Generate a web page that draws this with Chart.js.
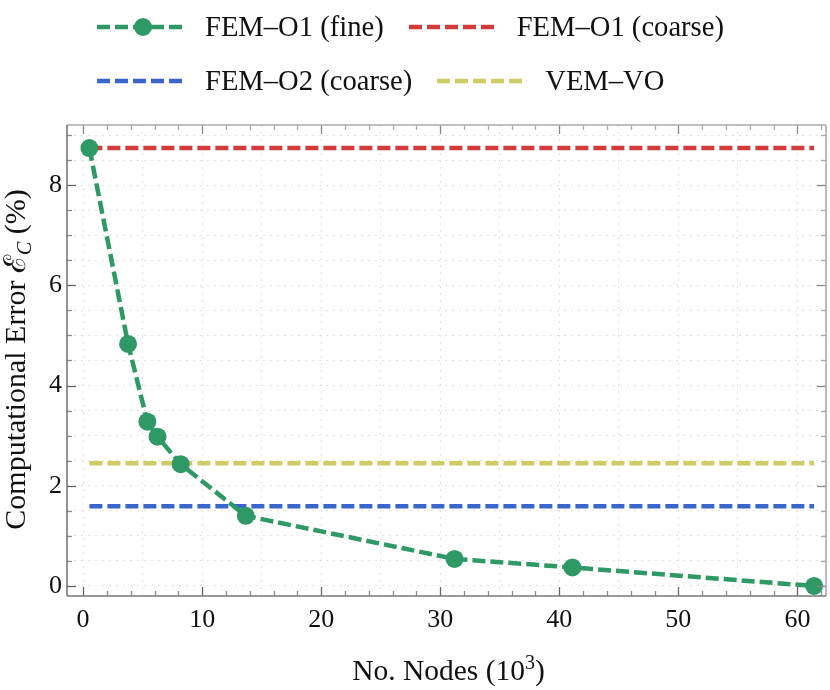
<!DOCTYPE html>
<html>
<head>
<meta charset="utf-8">
<script src="https://cdn.jsdelivr.net/npm/chart.js@4.4.1/dist/chart.umd.min.js"></script>
<style>
  body { margin: 0; background: #fff; }
  #wrap { position: relative; width: 830px; height: 690px; }
  #legend { position: absolute; left: 97px; top: 0; font-family: 'Liberation Serif', serif; font-size: 28.6px; color: #111; }
  .row { position: absolute; left: 0; height: 34px; display: flex; align-items: center; white-space: nowrap; }
  .row svg { margin-right: 21px; }
  .row span { margin-right: 25px; }
</style>
</head>
<body>
<div id="wrap">
  <canvas id="chart"></canvas>
  <div id="legend"></div>
</div>
<script>
// number of nodes (x 10^3) and computational error (%)
const nodes = [0.53, 3.78, 5.4, 6.25, 8.2, 13.67, 31.2, 41.1, 61.4];
const errFine = [8.74, 4.83, 3.28, 2.98, 2.43, 1.40, 0.54, 0.37, 0.0];
// reference levels, drawn across the same node range
const refRange = [0.53, 61.4];
const errO1Coarse = 8.74;
const errO2Coarse = 1.59;
const errVem = 2.45;

const seriesNames = ["FEM\u2013O1 (fine)", "FEM\u2013O1 (coarse)", "FEM\u2013O2 (coarse)", "VEM\u2013VO"];
const seriesColors = ["#2f9966", "#d33a3a", "#3a66cc", "#cfcc66"];

const FONT = "'Liberation Serif', 'DejaVu Serif', serif";
const DASH = [13, 5];

const flat = (v) => refRange.map(x => ({ x: x, y: v }));

const datasets = [
  {
    label: seriesNames[0],
    data: nodes.map((x, i) => ({ x: x, y: errFine[i] })),
    borderColor: seriesColors[0],
    backgroundColor: seriesColors[0],
    borderWidth: 4.5,
    borderDash: DASH,
    pointRadius: 9,
    pointBorderWidth: 0,
    order: 0,
  },
  { label: seriesNames[1], data: flat(errO1Coarse), borderColor: seriesColors[1], order: 1 },
  { label: seriesNames[2], data: flat(errO2Coarse), borderColor: seriesColors[2], order: 2 },
  { label: seriesNames[3], data: flat(errVem), borderColor: seriesColors[3], order: 3 },
];
datasets.slice(1).forEach(d => {
  d.borderWidth = 4.5;
  d.borderDash = DASH;
  d.pointRadius = 0;
  d.borderCapStyle = 'butt';
});

// frame with inward ticks on all four sides, plus the axis titles
const frameAndTitles = {
  id: 'frameAndTitles',
  afterDraw(chart) {
    const { ctx, chartArea: a, scales: { x, y } } = chart;
    ctx.save();
    const seg = (x1, y1, x2, y2) => { ctx.beginPath(); ctx.moveTo(x1, y1); ctx.lineTo(x2, y2); ctx.stroke(); };

    ctx.lineWidth = 1.3;
    for (let v = 0; v <= 62; v += 2) {
      const px = Math.round(x.getPixelForValue(v)) + 0.5;
      const major = v % 10 === 0;
      const len = major ? 9 : 5;
      ctx.strokeStyle = major ? '#666' : '#8a8a8a';
      seg(px, a.bottom, px, a.bottom - len);
      ctx.strokeStyle = major ? '#888' : '#aaa';
      seg(px, a.top, px, a.top + len);
    }
    for (let v = 0; v <= 9; v += 0.5) {
      const py = Math.round(y.getPixelForValue(v)) + 0.5;
      const major = v % 2 === 0;
      const len = major ? 9 : 5;
      ctx.strokeStyle = major ? '#666' : '#8a8a8a';
      seg(a.left, py, a.left + len, py);
      ctx.strokeStyle = major ? '#888' : '#aaa';
      seg(a.right, py, a.right - len, py);
    }

    ctx.lineWidth = 1.6;
    ctx.strokeStyle = '#aaa';
    seg(a.left, a.top, a.right, a.top);
    seg(a.right, a.top, a.right, a.bottom);
    ctx.strokeStyle = '#777';
    seg(a.left, a.top, a.left, a.bottom);
    seg(a.left, a.bottom, a.right, a.bottom);

    ctx.fillStyle = '#111';
    ctx.textBaseline = 'alphabetic';
    ctx.textAlign = 'left';

    // x title: No. Nodes (10^3)
    const mainFont = '29.5px ' + FONT;
    const supFont = '20px ' + FONT;
    const xParts = [
      { t: 'No. Nodes (10', f: mainFont, dy: 0 },
      { t: '3', f: supFont, dy: -11 },
      { t: ')', f: mainFont, dy: 0 },
    ];
    drawParts(ctx, xParts, (a.left + a.right) / 2 + 2, 680);

    // y title: Computational Error E_C (%)
    ctx.translate(25, (a.top + a.bottom) / 2 - 1);
    ctx.rotate(-Math.PI / 2);
    const yParts = [
      { t: 'Computational Error ', f: '30px ' + FONT, dy: 0 },
      { t: '\u2130', f: '30px ' + FONT, dy: 0 },
      { t: 'C', f: 'italic 20px ' + FONT, dy: 6 },
      { t: ' (%)', f: '30px ' + FONT, dy: 0 },
    ];
    drawParts(ctx, yParts, 0, 0);
    ctx.restore();
  }
};

function drawParts(ctx, parts, cx, baseY) {
  let total = 0;
  parts.forEach(p => { ctx.font = p.f; p.w = ctx.measureText(p.t).width; total += p.w; });
  let px = cx - total / 2;
  parts.forEach(p => { ctx.font = p.f; ctx.fillText(p.t, px, baseY + p.dy); px += p.w; });
}

const tickFont = { family: FONT, size: 26 };

new Chart(document.getElementById('chart'), {
  type: 'line',
  data: { datasets: datasets },
  options: {
    responsive: true,
    maintainAspectRatio: false,
    animation: false,
    layout: { autoPadding: false, padding: { top: 125, right: 4, left: 0, bottom: 0 } },
    plugins: { legend: { display: false }, tooltip: { enabled: false } },
    scales: {
      x: {
        type: 'linear',
        min: -1.35,
        max: 62.4,
        grid: { color: '#e2e2e2', lineWidth: 1, drawTicks: false },
        border: { display: false, dash: [2, 5] },
        ticks: {
          stepSize: 5,
          includeBounds: false,
          autoSkip: false,
          maxRotation: 0,
          padding: 9,
          color: '#111',
          font: tickFont,
          callback: (v) => (v % 10 === 0 ? String(Math.abs(v)) : ''),
        },
        afterFit: (s) => { s.height = 94; },
      },
      y: {
        type: 'linear',
        min: -0.2,
        max: 9.2,
        grid: { color: '#e2e2e2', lineWidth: 1, drawTicks: false },
        border: { display: false, dash: [2, 5] },
        ticks: {
          stepSize: 0.5,
          includeBounds: false,
          autoSkip: false,
          padding: 5,
          color: '#111',
          font: tickFont,
          callback: (v) => (v % 2 === 0 ? String(Math.abs(v)) : ''),
        },
        afterFit: (s) => { s.width = 67; },
      },
    },
  },
  plugins: [frameAndTitles],
});

// legend laid out two entries per row, like the original
const legend = document.getElementById('legend');
const rowTops = [10, 64];
datasets.forEach((d, i) => {
  const rowIdx = Math.floor(i / 2);
  let row = legend.children[rowIdx];
  if (!row) {
    row = document.createElement('div');
    row.className = 'row';
    row.style.top = rowTops[rowIdx] + 'px';
    legend.appendChild(row);
  }
  const marker = d.pointRadius ? `<circle cx="46" cy="10" r="${d.pointRadius}" fill="${d.borderColor}"/>` : '';
  row.insertAdjacentHTML('beforeend',
    `<svg width="87" height="20"><line x1="0" y1="10" x2="87" y2="10" stroke="${d.borderColor}" stroke-width="4.5" stroke-dasharray="${DASH.join(' ')}"/>${marker}</svg><span>${d.label}</span>`);
});
</script>
</body>
</html>
